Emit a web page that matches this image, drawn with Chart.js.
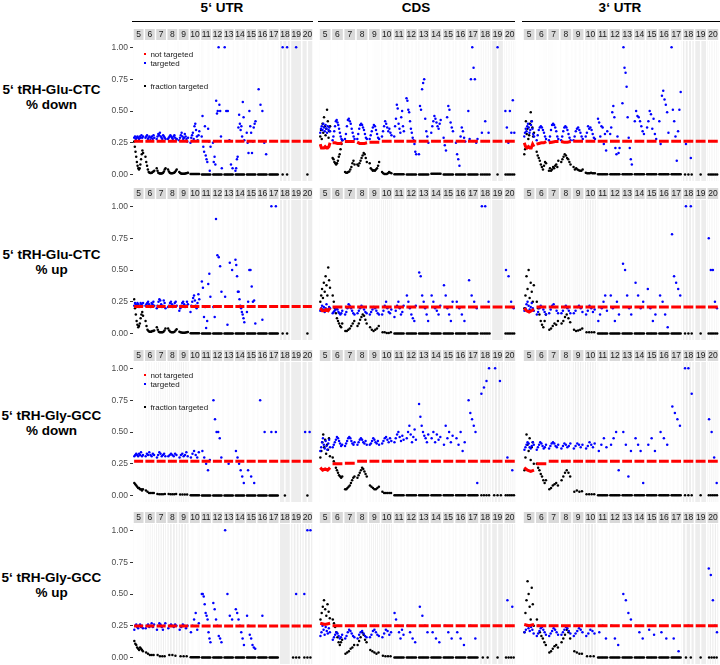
<!DOCTYPE html>
<html>
<head>
<meta charset="utf-8">
<script src="https://cdn.jsdelivr.net/npm/chart.js@4.4.1/dist/chart.umd.min.js"></script>
<style>
  body { margin: 0; width: 720px; height: 665px; background: #fff; position: relative; overflow: hidden;
         font-family: "Liberation Sans", Arial, sans-serif; }
  .panel { position: absolute; }
  .hdr { position: absolute; top: 0; font-weight: bold; font-size: 13.5px; transform: translateX(-50%); white-space: nowrap; }
  .rule { position: absolute; top: 20.5px; height: 1.6px; background: #000; }
  .rowlab { position: absolute; left: 0; width: 103px; text-align: center; font-weight: bold; font-size: 13.5px; line-height: 14.5px; }
  .leg { position: absolute; font-size: 8px; color: #1a1a1a; white-space: nowrap; }
  .leg i { display: inline-block; width: 2.4px; height: 2.4px; margin-right: 4px; vertical-align: middle; position: relative; top: -1px; }
</style>
</head>
<body>
<div class="hdr" style="left:222px">5‘ UTR</div>
<div class="hdr" style="left:416px">CDS</div>
<div class="hdr" style="left:620px">3‘ UTR</div>
<div class="rule" style="left:132px;width:181px"></div>
<div class="rule" style="left:318px;width:197px"></div>
<div class="rule" style="left:522px;width:198px"></div>

<div class="rowlab" style="top:83px">5‘ tRH-Glu-CTC<br>% down</div>
<div class="rowlab" style="top:248px">5‘ tRH-Glu-CTC<br>% up</div>
<div class="rowlab" style="top:409px">5‘ tRH-Gly-GCC<br>% down</div>
<div class="rowlab" style="top:571px">5‘ tRH-Gly-GCC<br>% up</div>

<div id="grid"></div>

<div class="leg" style="left:144px;top:50px"><i style="background:#f00"></i>not targeted</div>
<div class="leg" style="left:144px;top:59px"><i style="background:#00f"></i>targeted</div>
<div class="leg" style="left:144px;top:82px"><i style="background:#000"></i>fraction targeted</div>
<div class="leg" style="left:144px;top:371px"><i style="background:#f00"></i>not targeted</div>
<div class="leg" style="left:144px;top:380px"><i style="background:#00f"></i>targeted</div>
<div class="leg" style="left:144px;top:403px"><i style="background:#000"></i>fraction targeted</div>

<script>
// facet strips (k-mer length) and y axis ticks
const facetLabels = [5, 6, 7, 8, 9, 10, 11, 12, 13, 14, 15, 16, 17, 18, 19, 20];
const yTicks = [0, 0.25, 0.5, 0.75, 1];

// ---- 5' tRH-Glu-CTC, % down ----
const gluDownUtr5Blue = [
  [.29,.30,.28,.29,.30,.29,.28,.30,.29,.31,.29,.30],
  [.29,.30,.31,.28,.29,.30,.27,.29,.30,.28,.31,.29],
  [.28,.30,.32,.31,.33,.30,.29,.28,.31,.30,.29,.28],
  [.28,.29,.30,.31,.30,.29,.28,.30,.31,.29,.27,.28],
  [.27,.29,.31,.33,.30,.28,.29,.32,.30,.28,.26,.29],
  [.25,.29,.31,.33,.28,.38,.40,.35,.30,.27,.31,.34],
  [.30,.46,.22,.18,.38,.15,.12,.10,.36,.26,.03,.22],
  [.25,.10,.14,.08,.58,.48,.50,1.0,.55,.50,.30,.05],
  [1.0,.50,.50,.27,.08,.05],
  [.03,.05,.12,.14,.37,.47,.40,.35,.38,.30,.57,.45,.27],
  [.33,.25,.17,.50,.38,.33,.17,.26,.37,.40,.42],
  [.67,.55,.50,.25,.16],
  [],
  [1.0,1.0],
  [1.0],
  []
];
const gluDownUtr5Black = [
  [.26,.22,.18,.14,.10,.07,.05,.04,.05,.08,.12,.16,.19,.17],
  [.14,.10,.07,.04,.02,.015,.012,.012,.015,.02,.025,.03],
  [.05,.03,.015,.01,.008,.008,.008,.01,.015,.025,.04,.05],
  [.04,.025,.015,.01,.01,.01,.012,.015,.02,.03,.04],
  [.02,.012,.008,.006,.006,.006,.006,.008,.01,.012,.015],
  [.005,.005,.005,.005,.005,.005,.005,.005,.005,.005],
  [.002,.002,.002,.002,.002,.002,.002,.002],
  [.002,.002,.002,.002,.002,.002,.002,.002],
  [.002,.002,.002,.002,.002,.002,.002,.002],
  [.002,.002,.002,.002,.002,.002,.002,.002],
  [.002,.002,.002,.002,.002,.002,.002,.002],
  [.002,.002,.002,.002,.002,.002,.002,.002],
  [.002,.002,.002,.002,.002,.002,.002,.002],
  [.002,.002],
  [],
  [.002]
];
const gluDownUtr5Red = [[.263],[.263],[.263],[.263],[.263],[.263],[.263],[.263],[.263],[.263],[.263],[.263],[.263],[.263],[.263],[.263]];

const gluDownCdsBlue = [
  [.33,.36,.38,.35,.40,.37,.34,.39,.36,.33,.38,.35,.37,.34],
  [.27,.30,.34,.38,.42,.43,.41,.39,.36,.33,.30,.28,.27],
  [.28,.32,.38,.43,.44,.42,.40,.36,.33,.30,.28],
  [.28,.32,.36,.39,.40,.39,.37,.35,.32,.29,.28],
  [.28,.31,.34,.37,.39,.38,.35,.32,.29,.28],
  [.30,.34,.38,.42,.40,.37,.34,.36,.33,.31],
  [.30,.38,.44,.55,.52,.40,.36,.33,.45,.50,.38,.34],
  [.60,.58,.51,.49,.42,.36,.33,.29,.27,.24,.18,.16],
  [.16,.54,.51,.67,.72,.75,.44,.34,.30,.25],
  [.33,.38,.42,.46,.44,.41,.38,.36,.40,.43],
  [.29,.23,.19,.45,.54,.51,.41,.37,.34],
  [.25,.16,.12,.07,.30,.37,.34,.29,.26],
  [.50,.28,.75,1.0,.84,.75,.25,.28],
  [.33,.42,.33],
  [1.0],
  [.50,.37,.25,.50,.33,.585,.33]
];
const gluDownCdsBlack = [
  [.30,.35,.28,.40,.33,.45,.38,.31,.36,.51,.42,.29,.34,.38],
  [.13,.12,.10,.09,.08,.09,.11,.14,.16,.20,.24,.27],
  [.02,.015,.015,.02,.025,.04,.06,.09,.11,.08],
  [.08,.07,.09,.11,.13,.15,.17,.16,.13,.10],
  [.09,.05,.04,.03,.035,.03,.04,.05,.07,.10],
  [.02,.01,.005,.005,.005,.01,.02,.015,.01],
  [.003,.003,.003,.003,.003,.003,.003,.003],
  [.002,.002,.002,.002,.002,.002,.002,.002],
  [.002,.002,.002,.002,.002,.002,.002,.002],
  [.006,.006,.006,.006,.006,.006,.006,.006],
  [.002,.002,.002,.002,.002,.002,.002,.002],
  [.002,.002,.002,.002,.002,.002,.002,.002],
  [.002,.002,.002,.002,.002,.002,.002,.002],
  [.002,.002,.002,.002,.002,.002],
  [.002],
  [.002,.002,.002,.002,.002,.002]
];
const gluDownCdsRed = [[.24,.21,.21,.21,.22,.21,.21,.22,.25],[.25,.25,.245,.245,.25],[.26],[.255,.245,.245,.245,.25],[.255],[.262],[.262],[.262],[.262],[.262],[.262],[.262],[.262],[.262],[.262],[.262]];

const gluDownUtr3Blue = [
  [.30,.33,.36,.34,.38,.40,.37,.33,.35,.39,.42,.36,.32,.30],
  [.27,.31,.35,.37,.38,.37,.35,.33,.30,.28],
  [.27,.30,.35,.39,.40,.39,.37,.34,.30,.28],
  [.27,.30,.34,.37,.38,.37,.35,.32,.29,.27],
  [.27,.30,.34,.36,.37,.35,.33,.30,.28],
  [.30,.33,.38,.36,.37,.35,.32,.29,.28],
  [.44,.41,.30,.38,.37,.24,.32,.19,.34],
  [.32,.37,.49,.54,.45,.21,.16,.30,.17,.21],
  [.56,1.0,.84,.80,.69,.45,.29,.21,.12,.08],
  [.42,.50,.46,.45,.42,.38,.34,.32],
  [.37,.42,.50,.475,.36,.44,.32,.28],
  [.42,.24,.62,.66,.59,.55,.49,.33],
  [1.0,.51,.42,.30,.11,.34,.51,.65],
  [.24,.13],
  [],
  []
];
const gluDownUtr3Black = [
  [.16,.20,.42,.32,.36,.28,.31,.40,.49,.42,.37,.30,.33],
  [.18,.15,.13,.11,.08,.06,.04,.07,.10,.09],
  [.03,.05,.03,.04,.06,.05,.07,.08,.06,.11],
  [.10,.12,.14,.16,.15,.13,.12,.10,.08],
  [.06,.04,.05,.04,.035,.03,.03,.04],
  [.015,.01,.01,.01,.015,.01,.01,.01],
  [.003,.003,.003,.003,.003,.003,.003,.003],
  [.003,.003,.003,.003,.003,.003,.003,.003],
  [.003,.003,.003,.003,.003,.003,.003,.003],
  [.004,.004,.004,.004,.004,.004,.004,.004],
  [.003,.003,.003,.003,.003,.003,.003,.003],
  [.003,.003,.003,.003,.003,.003,.003,.003],
  [.003,.003,.003,.003,.003,.003,.003,.003],
  [.002,.002,.002],
  [.002],
  [.002,.002,.002,.002,.002,.002]
];
const gluDownUtr3Red = [[.25,.22,.21,.22,.21,.21,.24,.22],[.24,.245,.25,.25,.26],[.25,.255,.26,.26],[.26,.255,.255,.26],[.262],[.262],[.262],[.262],[.262],[.262],[.262],[.262],[.262],[.262],[.262],[.262]];

// ---- 5' tRH-Glu-CTC, % up ----
const gluUpUtr5Blue = [
  [.22,.24,.23,.22,.24,.23,.21,.22,.24,.23,.22,.24],
  [.22,.23,.24,.25,.23,.22,.21,.24,.23,.25,.22],
  [.20,.22,.25,.27,.26,.23,.21,.22,.26,.24,.20],
  [.21,.22,.24,.25,.23,.21,.22,.24,.25,.22],
  [.18,.20,.22,.24,.25,.23,.21,.22,.25,.23],
  [.17,.22,.25,.28,.30,.26,.22,.20,.24,.31,.27],
  [.41,.36,.13,.21,.045,.10,.39,.47,.29],
  [.21,.13,.90,.615,.60,.53,.33],
  [.29,.07,.556,.50],
  [.58,.54,.45,.33,.33,.27,.22,.20,.17,.15,.12,.09],
  [.17,.25,.50,.50,.37,.25,.26,.08],
  [.11],
  [1.0,1.0],
  [],
  [],
  []
];
const gluUpUtr5Black = [
  [.27,.20,.15,.10,.07,.05,.06,.08,.12,.15,.17,.14],
  [.10,.06,.03,.02,.015,.015,.015,.02,.02,.025],
  [.05,.03,.015,.01,.01,.01,.01,.015,.025,.04],
  [.04,.025,.015,.01,.01,.01,.015,.025,.035],
  [.015,.01,.008,.006,.006,.006,.008,.01,.012],
  [.004,.004,.004,.004,.004,.004,.004,.004],
  [.002,.002,.002,.002,.002,.002,.002,.002],
  [.002,.002,.002,.002,.002,.002,.002,.002],
  [.002,.002,.002,.002,.002,.002,.002,.002],
  [.002,.002,.002,.002,.002,.002,.002,.002],
  [.002,.002,.002,.002,.002,.002,.002,.002],
  [.002,.002,.002,.002,.002,.002,.002,.002],
  [.002,.002,.002,.002,.002,.002,.002,.002],
  [.002,.002],
  [],
  [.002]
];
const gluUpUtr5Red = [[.213],[.213],[.213],[.213],[.213],[.213],[.213],[.213],[.213],[.213],[.213],[.213],[.213],[.213],[.213],[.213]];

const gluUpCdsBlue = [
  [.18,.20,.22,.19,.21,.17,.20,.23,.19,.18,.21,.20],
  [.16,.17,.18,.19,.20,.19,.17,.16,.15,.16,.18],
  [.15,.17,.20,.23,.22,.20,.18,.16,.15],
  [.16,.18,.20,.22,.21,.19,.17,.16],
  [.15,.17,.19,.21,.20,.18,.16,.15],
  [.15,.18,.22,.25,.20,.17,.16,.19],
  [.13,.18,.22,.25,.20,.15,.17,.22],
  [.30,.25,.20,.15,.12,.10,.22],
  [.48,.45,.30,.25,.20,.15,.10],
  [.30,.25,.20,.18,.15,.22],
  [.38,.30,.20,.15,.10,.25],
  [.25,.20,.15,.10],
  [.42,.30,.25,.20],
  [1.0,1.0,.25],
  [],
  [.50,.45,.25,.20]
];
const gluUpCdsBlack = [
  [.25,.30,.35,.28,.40,.33,.45,.38,.30,.52,.42,.36],
  [.30,.25,.20,.16,.12,.10,.08,.06,.05,.08],
  [.02,.02,.03,.04,.06,.08,.10],
  [.06,.08,.11,.13,.15,.14,.11,.08],
  [.05,.03,.02,.03,.04,.06],
  [.01,.01,.005,.005,.01],
  [.002,.002,.002,.002,.002,.002,.002,.002],
  [.002,.002,.002,.002,.002,.002,.002,.002],
  [.002,.002,.002,.002,.002,.002,.002,.002],
  [.002,.002,.002,.002,.002,.002,.002,.002],
  [.002,.002,.002,.002,.002,.002,.002,.002],
  [.002,.002,.002,.002,.002,.002,.002,.002],
  [.002,.002,.002,.002,.002,.002,.002,.002],
  [.002,.002,.002,.002,.002,.002],
  [],
  [.002,.002,.002,.002,.002,.002]
];
const gluUpCdsRed = [[.20,.18,.18,.19,.18,.20],[.21],[.21],[.21],[.21],[.21],[.21],[.21],[.21],[.21],[.21],[.21],[.21],[.21],[.21],[.21]];

const gluUpUtr3Blue = [
  [.18,.20,.23,.25,.22,.19,.21,.24,.20,.18],
  [.15,.17,.20,.22,.21,.19,.17,.15],
  [.16,.19,.22,.23,.21,.18,.16],
  [.16,.18,.21,.22,.20,.18,.16],
  [.16,.18,.21,.22,.20,.17],
  [.15,.18,.22,.20,.17,.19],
  [.10,.15,.20,.25,.30,.18],
  [.30,.20,.10,.25,.15],
  [.55,.50,.30,.20,.15],
  [.40,.30,.20,.25],
  [.35,.20,.10,.15],
  [.30,.25,.15,.05],
  [.78,.45,.40,.35,.30],
  [1.0,1.0],
  [],
  [.75,.50,.50,.25,.20]
];
const gluUpUtr3Black = [
  [.20,.30,.45,.35,.50,.28,.40,.33,.25,.38],
  [.25,.20,.15,.10,.07,.05,.10,.15],
  [.03,.04,.06,.08,.07,.10],
  [.08,.10,.13,.15,.12,.09],
  [.03,.02,.025,.03,.04],
  [.01,.01,.01,.01],
  [.002,.002,.002,.002,.002,.002,.002,.002],
  [.002,.002,.002,.002,.002,.002,.002,.002],
  [.002,.002,.002,.002,.002,.002,.002,.002],
  [.002,.002,.002,.002,.002,.002,.002,.002],
  [.002,.002,.002,.002,.002,.002,.002,.002],
  [.002,.002,.002,.002,.002,.002,.002,.002],
  [.002,.002,.002,.002,.002,.002,.002,.002],
  [.002,.002,.002],
  [.002],
  [.002,.002,.002,.002,.002,.002]
];
const gluUpUtr3Red = [[.20,.18,.17,.18,.19],[.21],[.21],[.21],[.21],[.21],[.21],[.21],[.21],[.21],[.21],[.21],[.21],[.21],[.21],[.21]];

// ---- 5' tRH-Gly-GCC, % down ----
const glyDownUtr5Blue = [
  [.31,.32,.33,.32,.31,.33,.32,.34,.31,.32],
  [.31,.33,.32,.34,.32,.31,.33,.32],
  [.30,.32,.34,.33,.31,.32,.33,.31],
  [.31,.32,.33,.32,.31,.33,.32],
  [.30,.32,.33,.31,.32,.34,.31],
  [.30,.33,.35,.32,.30,.34],
  [.35,.30,.25,.20,.28],
  [.75,.60,.50,.50,.45,.30],
  [.25],
  [.35,.30,.25,.20,.15,.10],
  [.20,.15,.10],
  [.75,.50],
  [.50,.50],
  [],
  [],
  [.50,.50]
];
const glyDownUtr5Black = [
  [.10,.09,.08,.07,.06,.06,.05,.05,.04,.05],
  [.04,.03,.02,.02,.02,.02],
  [.012,.01,.01,.01,.012],
  [.012,.01,.01,.01,.012],
  [.008,.008,.008,.008],
  [.003,.003,.003,.003,.003,.003,.003,.003],
  [.002,.002,.002,.002,.002,.002,.002,.002],
  [.002,.002,.002,.002,.002,.002,.002,.002],
  [.002,.002,.002,.002,.002,.002,.002,.002],
  [.002,.002,.002,.002,.002,.002,.002,.002],
  [.002,.002,.002,.002,.002,.002,.002,.002],
  [.002,.002,.002,.002,.002,.002,.002,.002],
  [.002,.002,.002,.002,.002,.002,.002,.002],
  [.002],
  [],
  [.002]
];
const glyDownUtr5Red = [[.27],[.27],[.27],[.27],[.27],[.27],[.27],[.27],[.27],[.27],[.27],[.27],[.27],[.27],[.27],[.27]];

const glyDownCdsBlue = [
  [.35,.38,.42,.45,.40,.37,.43,.39,.36,.41,.44,.38],
  [.38,.40,.42,.44,.46,.45,.43,.41,.39,.40],
  [.39,.41,.43,.45,.46,.45,.43,.41,.40,.42],
  [.40,.42,.44,.45,.44,.42,.41,.43,.40],
  [.40,.41,.43,.45,.44,.42,.41,.43,.40],
  [.41,.43,.45,.46,.44,.42,.45,.43],
  [.42,.45,.48,.50,.46,.43,.47,.44],
  [.45,.50,.55,.48,.42,.46,.52,.44],
  [.72,.62,.55,.50,.47,.45,.42,.48],
  [.45,.50,.42,.48,.44,.46],
  [.40,.55,.45,.50,.42,.47],
  [.45,.40,.50,.35,.42],
  [.75,.65,.60,.55,.50,.10],
  [.80,.85,.90,1.0],
  [1.0,.90],
  [.30,.20]
];
const glyDownCdsBlack = [
  [.30,.35,.42,.48,.38,.44,.33,.40,.36,.45,.31],
  [.30,.27,.25,.22,.20,.18,.16,.15,.14,.15],
  [.05,.05,.06,.07,.08,.10,.12,.14,.15],
  [.14,.16,.18,.20,.22,.21,.19,.17,.15],
  [.08,.07,.06,.05,.05,.06,.07],
  [.03,.02,.02,.02,.02,.02],
  [.003,.003,.003,.003,.003,.003,.003,.003],
  [.003,.003,.003,.003,.003,.003,.003,.003],
  [.003,.003,.003,.003,.003,.003,.003,.003],
  [.003,.003,.003,.003,.003,.003,.003,.003],
  [.003,.003,.003,.003,.003,.003,.003,.003],
  [.003,.003,.003,.003,.003,.003,.003,.003],
  [.003,.003,.003,.003,.003,.003,.003,.003],
  [.003,.003,.003,.003],
  [.003,.003,.003],
  [.003,.003,.003,.003,.003]
];
const glyDownCdsRed = [[.22,.20,.21,.20,.22],[.25],[.255],[.27],[.27],[.27],[.27],[.27],[.27],[.27],[.27],[.27],[.27],[.27],[.27],[.27]];

const glyDownUtr3Blue = [
  [.36,.38,.40,.42,.41,.38,.37,.39,.42,.40],
  [.36,.38,.40,.42,.41,.39,.37,.38,.40],
  [.37,.39,.41,.42,.41,.39,.38,.40],
  [.37,.39,.41,.40,.38,.39,.41],
  [.37,.39,.41,.40,.38,.40],
  [.37,.39,.42,.40,.38,.41],
  [.35,.40,.45,.38],
  [.40,.45,.50,.20],
  [.50,.40,.15,.35],
  [.45,.40,.35,.10],
  [.40,.45,.35],
  [.50,.45,.40],
  [.70,.65,.60,.55],
  [1.0,1.0,.80],
  [],
  [.60,.50,.30,.10]
];
const glyDownUtr3Black = [
  [.20,.30,.48,.40,.35,.45,.28,.38,.42,.25],
  [.25,.22,.20,.17,.15,.12,.10,.12],
  [.05,.06,.08,.09,.10,.08],
  [.12,.15,.18,.20,.18,.15],
  [.03,.04,.03,.035],
  [.01,.01,.01,.01],
  [.003,.003,.003,.003,.003,.003,.003,.003],
  [.003,.003,.003,.003,.003,.003,.003,.003],
  [.003,.003,.003,.003,.003,.003,.003,.003],
  [.003,.003,.003,.003,.003,.003,.003,.003],
  [.003,.003,.003,.003,.003,.003,.003,.003],
  [.003,.003,.003,.003,.003,.003,.003,.003],
  [.003,.003,.003,.003,.003,.003,.003,.003],
  [.003,.003,.003],
  [.003],
  [.003,.003,.003,.003,.003]
];
const glyDownUtr3Red = [[.22,.20,.19,.20],[.25],[.27],[.27],[.27],[.27],[.27],[.27],[.27],[.27],[.27],[.27],[.27],[.27],[.27],[.27]];

// ---- 5' tRH-Gly-GCC, % up ----
const glyUpUtr5Blue = [
  [.22,.25,.26,.24,.23,.25,.26,.24,.25,.23],
  [.23,.25,.26,.24,.25,.27,.24,.26],
  [.22,.25,.27,.26,.24,.22,.25,.27],
  [.23,.25,.26,.25,.24,.26,.25],
  [.22,.24,.26,.25,.23,.25],
  [.20,.25,.30,.35,.22,.27],
  [.50,.50,.48,.42,.35,.33,.30,.20,.15,.12],
  [.43,.38,.30,.25,.17,.15,.12],
  [1.0,.50,.33,.30],
  [.38,.35,.30,.25,.20,.15,.10],
  [.33,.25,.18,.15,.10,.08,.07],
  [.33],
  [],
  [],
  [.50],
  [.50,1.0,1.0]
];
const glyUpUtr5Black = [
  [.13,.11,.10,.08,.07,.06,.08,.07,.06,.05],
  [.04,.03,.02,.02,.02],
  [.02,.01,.01,.01],
  [.02,.02,.015],
  [.01,.01,.01],
  [.003,.003,.003,.003,.003,.003,.003,.003],
  [.002,.002,.002,.002,.002,.002,.002,.002],
  [.002,.002,.002,.002,.002,.002,.002,.002],
  [.002,.002,.002,.002,.002,.002,.002,.002],
  [.002,.002,.002,.002,.002,.002,.002,.002],
  [.002,.002,.002,.002,.002,.002,.002,.002],
  [.002,.002,.002,.002,.002,.002,.002,.002],
  [.002,.002,.002,.002,.002,.002,.002,.002],
  [],
  [.002,.002,.002],
  [.002,.002,.002]
];
const glyUpUtr5Red = [[.248],[.248],[.248],[.248],[.248],[.248],[.248],[.248],[.248],[.248],[.248],[.248],[.248],[.248],[.248],[.248]];

const glyUpCdsBlue = [
  [.17,.20,.25,.22,.18,.24,.21,.19,.23,.20],
  [.14,.16,.18,.20,.19,.17,.15,.16,.18],
  [.15,.17,.20,.22,.21,.19,.17,.16],
  [.15,.18,.20,.21,.19,.17,.16],
  [.16,.18,.21,.22,.20,.18,.17],
  [.16,.19,.22,.21,.18,.20],
  [.35,.30,.25,.20,.15,.22,.18],
  [.25,.20,.15,.12],
  [.40,.33,.25,.20],
  [.20,.15,.12],
  [.25,.20,.15],
  [.20,.15,.10],
  [.25,.15],
  [],
  [],
  [.45,.40]
];
const glyUpCdsBlack = [
  [.30,.35,.40,.45,.38,.33,.42,.36,.31],
  [.30,.27,.24,.20,.16,.12,.10,.12,.14],
  [.03,.04,.05,.07,.08,.10],
  [.10,.13,.16,.20,.18,.14,.12],
  [.06,.05,.04,.03,.04],
  [.015,.01,.01,.01],
  [.002,.002,.002,.002,.002,.002,.002,.002],
  [.002,.002,.002,.002,.002,.002,.002,.002],
  [.002,.002,.002,.002,.002,.002,.002,.002],
  [.002,.002,.002,.002,.002,.002,.002,.002],
  [.002,.002,.002,.002,.002,.002,.002,.002],
  [.002,.002,.002,.002,.002,.002,.002,.002],
  [.002,.002,.002,.002,.002,.002,.002,.002],
  [.002,.002],
  [.002],
  [.002,.002,.002,.002]
];
const glyUpCdsRed = [[.27,.26,.27],[.25],[.25],[.25],[.25],[.25],[.25],[.25],[.25],[.25],[.25],[.25],[.25],[.25],[.25],[.25]];

const glyUpUtr3Blue = [
  [.20,.22,.25,.23,.21,.24,.22,.19],
  [.17,.19,.21,.23,.24,.22,.20,.18],
  [.17,.19,.21,.23,.22,.20,.18],
  [.18,.20,.22,.24,.23,.21,.19],
  [.17,.19,.21,.23,.22,.20],
  [.17,.19,.22,.21,.19],
  [.20,.25,.15],
  [.25,.15,.10],
  [.50,.45,.35,.30],
  [.25,.20,.15],
  [.22,.18],
  [.20,.15],
  [.15,.05],
  [.25],
  [],
  [.70,.65,.45,.25,.20]
];
const glyUpUtr3Black = [
  [.20,.35,.45,.60,.50,.40,.30,.55,.42,.25],
  [.30,.25,.20,.17,.15,.12,.10],
  [.04,.05,.07,.09,.10,.08],
  [.12,.15,.18,.22,.20,.15],
  [.05,.04,.03,.03],
  [.01,.01,.01],
  [.002,.002,.002,.002,.002,.002,.002,.002],
  [.002,.002,.002,.002,.002,.002,.002,.002],
  [.002,.002,.002,.002,.002,.002,.002,.002],
  [.002,.002,.002,.002,.002,.002,.002,.002],
  [.002,.002,.002,.002,.002,.002,.002,.002],
  [.002,.002,.002,.002,.002,.002,.002,.002],
  [.002,.002,.002,.002,.002,.002,.002,.002],
  [.002,.002],
  [.002],
  [.002,.002,.002,.002]
];
const glyUpUtr3Red = [[.26,.25,.26],[.25],[.25],[.25],[.25],[.25],[.25],[.25],[.25],[.25],[.25],[.25],[.25],[.25],[.25],[.25]];

// ---- layout ----
const FONT = "'Liberation Sans', Arial, sans-serif";
const GAP = 0.065;
const colBoxes = [
  { left: 100, width: 213, yAxis: true },
  { left: 319, width: 197, yAxis: false },
  { left: 523, width: 196, yAxis: false },
];
const rowTops = [29, 188, 350, 512];

const panels = [
  [gluDownUtr5Blue, gluDownUtr5Black, gluDownUtr5Red],
  [gluDownCdsBlue, gluDownCdsBlack, gluDownCdsRed],
  [gluDownUtr3Blue, gluDownUtr3Black, gluDownUtr3Red],
  [gluUpUtr5Blue, gluUpUtr5Black, gluUpUtr5Red],
  [gluUpCdsBlue, gluUpCdsBlack, gluUpCdsRed],
  [gluUpUtr3Blue, gluUpUtr3Black, gluUpUtr3Red],
  [glyDownUtr5Blue, glyDownUtr5Black, glyDownUtr5Red],
  [glyDownCdsBlue, glyDownCdsBlack, glyDownCdsRed],
  [glyDownUtr3Blue, glyDownUtr3Black, glyDownUtr3Red],
  [glyUpUtr5Blue, glyUpUtr5Black, glyUpUtr5Red],
  [glyUpCdsBlue, glyUpCdsBlack, glyUpCdsRed],
  [glyUpUtr3Blue, glyUpUtr3Black, glyUpUtr3Red],
];

// category slot i of n inside facet k
function slotX(k, i, n) {
  return k + GAP + (1 - 2 * GAP) * (i + 0.6) / (n + 0.2);
}

function scatterPoints(groups) {
  const out = [];
  groups.forEach((vals, k) => {
    vals.forEach((v, i) => out.push({ x: slotX(k, i, vals.length), y: v }));
  });
  return out;
}

function redSegments(groups) {
  const out = [];
  groups.forEach((vals, k) => {
    const n = vals.length;
    const a = k + 0.1, b = k + 0.9;
    if (n === 1) {
      out.push({ x: a, y: vals[0] }, { x: b, y: vals[0] });
    } else {
      vals.forEach((v, i) => out.push({ x: a + (b - a) * i / (n - 1), y: v }));
    }
    out.push({ x: k + 0.95, y: null });
  });
  return out;
}

// grey facet panels with white category grid lines, strip boxes and their labels
const facetPlugin = {
  id: "facetPanels",
  beforeDraw(chart, args, opts) {
    const { ctx, chartArea: area } = chart;
    const xs = chart.scales.x;
    ctx.save();
    opts.slots.forEach((vals, k) => {
      const l = xs.getPixelForValue(k + GAP);
      const r = xs.getPixelForValue(k + 1 - GAP);
      ctx.fillStyle = "#ededed";
      ctx.fillRect(l, area.top, r - l, area.bottom - area.top);
      ctx.strokeStyle = "#ffffff";
      ctx.lineWidth = 1.4;
      vals.forEach((v, i) => {
        const px = xs.getPixelForValue(slotX(k, i, vals.length));
        ctx.beginPath();
        ctx.moveTo(px, area.top);
        ctx.lineTo(px, area.bottom);
        ctx.stroke();
      });
      ctx.fillStyle = "#d9d9d9";
      ctx.fillRect(l, xs.top, r - l, xs.bottom - xs.top - 1);
    });
    ctx.restore();
  },
  afterDraw(chart) {
    const { ctx } = chart;
    const xs = chart.scales.x;
    ctx.save();
    ctx.fillStyle = "#1a1a1a";
    ctx.font = "8.5px " + FONT;
    ctx.textAlign = "center";
    ctx.textBaseline = "middle";
    facetLabels.forEach((lab, k) => {
      ctx.fillText(String(lab), xs.getPixelForValue(k + 0.5), xs.top + (xs.bottom - xs.top - 1) / 2 + 0.5);
    });
    ctx.restore();
  },
};

const gridEl = document.getElementById("grid");

panels.forEach(([blue, black, red], idx) => {
  const row = Math.floor(idx / 3);
  const col = colBoxes[idx % 3];
  const wrap = document.createElement("div");
  wrap.className = "panel";
  wrap.style.left = col.left + "px";
  wrap.style.top = rowTops[row] + "px";
  wrap.style.width = col.width + "px";
  wrap.style.height = "152px";
  const canvas = document.createElement("canvas");
  wrap.appendChild(canvas);
  gridEl.appendChild(wrap);

  new Chart(canvas, {
    type: "scatter",
    data: {
      datasets: [
        { label: "not targeted", data: redSegments(red), showLine: true, borderColor: "#ff0000",
          borderWidth: 3, pointRadius: 0, spanGaps: false, order: 1 },
        { label: "targeted", data: scatterPoints(blue), backgroundColor: "#0000ff", borderWidth: 0,
          pointRadius: 1.25, order: 2 },
        { label: "fraction targeted", data: scatterPoints(black), backgroundColor: "#000000", borderWidth: 0,
          pointRadius: 1.25, order: 3 },
      ],
    },
    options: {
      responsive: true,
      maintainAspectRatio: false,
      animation: false,
      events: [],
      layout: { padding: 0, autoPadding: false },
      plugins: { legend: { display: false }, tooltip: { enabled: false }, facetPanels: { slots: black } },
      scales: {
        x: {
          type: "linear",
          position: "top",
          min: 0,
          max: 16,
          afterFit: (s) => { s.height = 12; s.paddingLeft = 0; s.paddingRight = 0; },
          ticks: { display: false },
          grid: { display: false },
          border: { display: false },
        },
        y: {
          display: col.yAxis,
          min: -0.05,
          max: 1.05,
          afterBuildTicks: (s) => { s.ticks = yTicks.map((v) => ({ value: v })); },
          afterFit: (s) => {
            s.width = col.yAxis ? 33 : 0;
            s.paddingTop = 0;
            s.paddingBottom = 0;
          },
          ticks: { color: "#4d4d4d", padding: 2, font: { family: FONT, size: 8.5 },
                   callback: (v) => Number(v).toFixed(2) },
          grid: { drawOnChartArea: false, drawTicks: true, tickLength: 3, color: "#333333" },
          border: { display: false },
        },
      },
    },
    plugins: [facetPlugin],
  });
});
</script>
</body>
</html>
